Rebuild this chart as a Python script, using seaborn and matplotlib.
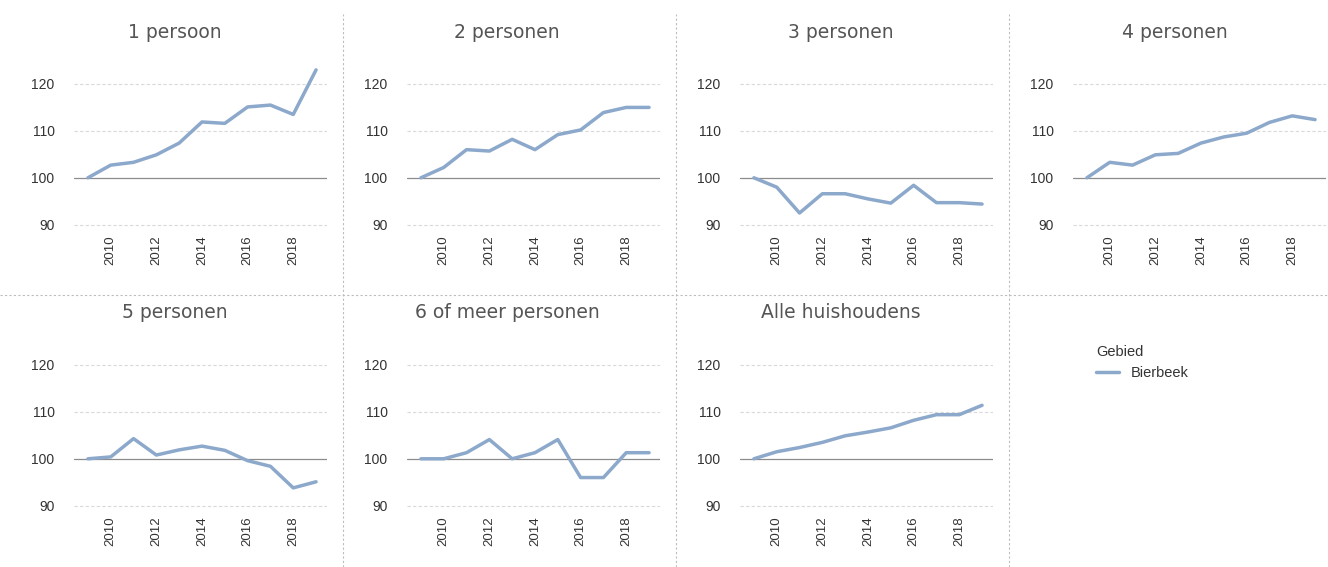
import matplotlib
matplotlib.use("Agg")
import matplotlib.pyplot as plt
from matplotlib.lines import Line2D
import seaborn as sns
import pandas as pd

# data (index, 2009 = 100), Bierbeek
years = list(range(2009, 2020))
panels = ['1 persoon', '2 personen', '3 personen', '4 personen',
          '5 personen', '6 of meer personen', 'Alle huishoudens']
p1 = [100, 102.7, 103.3, 104.9, 107.4, 111.9, 111.6, 115.1, 115.5, 113.5, 123.0]
p2 = [100, 102.2, 106.0, 105.7, 108.2, 106.0, 109.2, 110.2, 113.9, 115.0, 115.0]
p3 = [100, 98.0, 92.5, 96.6, 96.6, 95.5, 94.6, 98.4, 94.7, 94.7, 94.4]
p4 = [100, 103.3, 102.7, 104.9, 105.2, 107.4, 108.7, 109.5, 111.8, 113.2, 112.4]
p5 = [100, 100.4, 104.3, 100.8, 101.9, 102.7, 101.8, 99.6, 98.4, 93.8, 95.1]
p6 = [100, 100, 101.3, 104.1, 100, 101.3, 104.1, 96.0, 96.0, 101.3, 101.3]
p7 = [100, 101.5, 102.4, 103.5, 104.9, 105.7, 106.6, 108.2, 109.4, 109.4, 111.4]
series = [p1, p2, p3, p4, p5, p6, p7]
gebied = 'Bierbeek'

line_color = '#8CA8CB'
sns.set_style('white')
plt.rcParams['font.family'] = ['Liberation Sans', 'DejaVu Sans']

W, H = 1328, 567
fig = plt.figure(figsize=(W / 100, H / 100), dpi=100)

lefts = [74, 407, 740, 1073]
row_tops = [55.8, 336.8]
aw, ah = 253, 173.6
title_x = [175, 507, 841, 1175]
title_y = [32, 313]

for i, (name, vals) in enumerate(zip(panels, series)):
    r, c = divmod(i, 4)
    ax = fig.add_axes([lefts[c] / W, (H - row_tops[r] - ah) / H, aw / W, ah / H])
    df = pd.DataFrame({'Jaar': years, 'Index': vals, 'Gebied': gebied})
    sns.lineplot(data=df, x='Jaar', y='Index', hue='Gebied',
                 palette=[line_color], linewidth=2.5, legend=False, ax=ax)
    ax.set_xlim(2008.39, 2019.48)
    ax.set_ylim(89, 126)
    ax.set_yticks([90, 100, 110, 120])
    ax.set_xticks([2010, 2012, 2014, 2016, 2018])
    ax.tick_params(axis='x', rotation=90, labelsize=9.5, colors='#333333', length=0, pad=4)
    ax.tick_params(axis='y', labelsize=10, colors='#333333', length=0, pad=14)
    for y in [90, 110, 120]:
        ax.axhline(y, color='#d9d9d9', lw=0.8, ls=(0, (3, 2)), zorder=0)
    ax.axhline(100, color='#8c8c8c', lw=0.9, zorder=1)
    ax.set_xlabel('')
    ax.set_ylabel('')
    sns.despine(ax=ax, left=True, bottom=True)
    fig.text(title_x[c] / W, 1 - title_y[r] / H, name, ha='center', va='center',
             fontsize=13.5, color='#555555', family=['DejaVu Sans'])

# legend panel
lax = fig.add_axes([1020 / W, 80 / H, 290 / W, 190 / H])
lax.axis('off')
handle = Line2D([], [], color=line_color, lw=2.5)
leg = lax.legend([handle], [gebied], title='Gebied', loc='upper left',
                 bbox_to_anchor=(0.217, 0.817), frameon=False, fontsize=10.5,
                 title_fontsize=10.5, handlelength=1.6, alignment='left')
for t in leg.get_texts():
    t.set_color('#333333')
leg.get_title().set_color('#333333')

# separators
sep = dict(color='#bdbdbd', lw=0.8, ls=(0, (2, 2)))
for x in [343, 676, 1009]:
    fig.add_artist(Line2D([x / W, x / W], [0, 1 - 14 / H], transform=fig.transFigure, **sep))
fig.add_artist(Line2D([0, 1], [1 - 295 / H, 1 - 295 / H], transform=fig.transFigure, **sep))

fig.savefig('out.png', dpi=100)
